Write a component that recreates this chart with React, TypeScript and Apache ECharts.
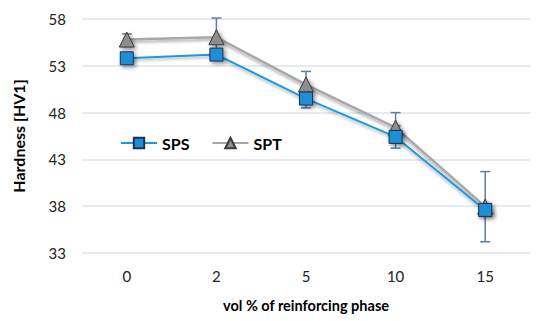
import React, { useEffect, useRef } from "react";
import * as echarts from "echarts";

const categories = ["0", "2", "5", "10", "15"];
const spsValues = [53.8, 54.2, 49.5, 45.4, 37.6];
const sptValues = [55.8, 56.05, 51.0, 46.4, 37.95];
const spsErrors = [0.3, 0.3, 1.0, 1.2, 0.4];
const sptErrors = [0.6, 2.05, 1.4, 1.6, 3.75];
const yTicks = { min: 33, max: 58, step: 5 };

const FONT = "Lato, 'Open Sans', sans-serif";

function errorSeries(values: number[], errors: number[], name: string) {
  const data = values.map((v, i) => [i, v - errors[i], v + errors[i]]);
  return {
    type: "custom",
    name,
    z: 1,
    silent: true,
    renderItem: (params: any, api: any) => {
      const x = api.value(0);
      const lo = api.coord([x, api.value(1)]);
      const hi = api.coord([x, api.value(2)]);
      const w = 5;
      const style = { stroke: "#5b7fa8", lineWidth: 1.5 };
      return {
        type: "group",
        children: [
          { type: "line", shape: { x1: lo[0], y1: lo[1], x2: hi[0], y2: hi[1] }, style },
          { type: "line", shape: { x1: lo[0] - w, y1: lo[1], x2: lo[0] + w, y2: lo[1] }, style },
          { type: "line", shape: { x1: hi[0] - w, y1: hi[1], x2: hi[0] + w, y2: hi[1] }, style },
        ],
      };
    },
    data,
  };
}

export default function App() {
  const ref = useRef<HTMLDivElement>(null);
  useEffect(() => {
    if (!ref.current) return;
    const chart = echarts.init(ref.current, null, { renderer: "svg" });
    chart.setOption({
      animation: false,
      backgroundColor: "#ffffff",
      grid: { left: 82, right: 20, top: 19, bottom: 68 },
      legend: {
        left: 115,
        top: 130,
        itemWidth: 36,
        itemHeight: 13,
        itemGap: 22,
        textStyle: { fontFamily: FONT, fontSize: 16, fontWeight: "bold", color: "#000" },
        data: ["SPS", "SPT"],
      },
      xAxis: {
        type: "category",
        data: categories,
        boundaryGap: true,
        axisLine: { show: false },
        axisTick: { show: false },
        axisLabel: { fontFamily: FONT, fontSize: 15, color: "#222", margin: 15 },
        name: "vol % of reinforcing phase",
        nameLocation: "middle",
        nameGap: 45,
        nameTextStyle: { fontFamily: FONT, fontSize: 14.5, fontWeight: "bold", color: "#000" },
      },
      yAxis: {
        type: "value",
        min: yTicks.min,
        max: yTicks.max,
        interval: yTicks.step,
        axisLine: { show: false },
        axisTick: { show: false },
        axisLabel: { fontFamily: FONT, fontSize: 15, color: "#222", margin: 16 },
        splitLine: { lineStyle: { color: "#dde4ec", width: 1.5 } },
        name: "Hardness [HV1]",
        nameLocation: "middle",
        nameGap: 56,
        nameTextStyle: { fontFamily: FONT, fontSize: 16, fontWeight: "bold", color: "#000" },
      },
      series: [
        errorSeries(spsValues, spsErrors, "SPS err"),
        errorSeries(sptValues, sptErrors, "SPT err"),
        {
          name: "SPT",
          type: "line",
          z: 2,
          data: sptValues,
          symbol: "triangle",
          symbolSize: 15,
          lineStyle: {
            color: "#a8a8a8",
            width: 2.5,
            shadowColor: "rgba(0,0,0,0.35)",
            shadowBlur: 3,
            shadowOffsetY: 2,
          },
          itemStyle: {
            color: "#8e8e8e",
            borderColor: "#3a3a3a",
            borderWidth: 1,
            shadowColor: "rgba(0,0,0,0.45)",
            shadowBlur: 4,
            shadowOffsetX: 2,
            shadowOffsetY: 2,
          },
        },
        {
          name: "SPS",
          type: "line",
          z: 3,
          data: spsValues,
          symbol: "rect",
          symbolSize: 13,
          lineStyle: {
            color: "#1a9ae0",
            width: 2,
            shadowColor: "rgba(0,0,0,0.3)",
            shadowBlur: 3,
            shadowOffsetY: 2,
          },
          itemStyle: {
            color: "#1a8fd8",
            borderColor: "#1c3350",
            borderWidth: 1,
            shadowColor: "rgba(0,0,0,0.45)",
            shadowBlur: 4,
            shadowOffsetX: 2,
            shadowOffsetY: 2,
          },
        },
      ],
    });
    return () => chart.dispose();
  }, []);
  return <div ref={ref} style={{ width: 550, height: 321, position: "absolute", left: 0, top: 0 }} />;
}
